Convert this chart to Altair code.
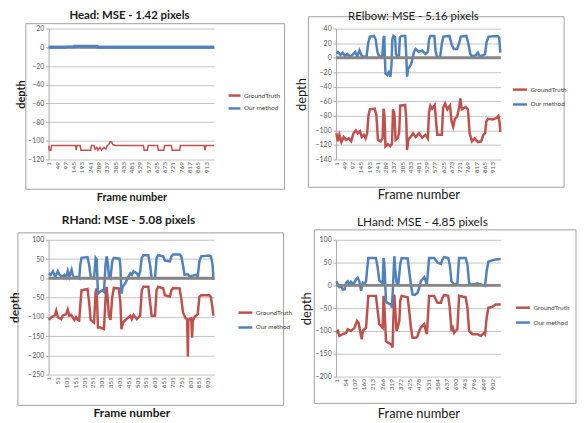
import altair as alt
import pandas as pd

RED = "#C0504D"
BLUE = "#4F81BD"
SERIES = ["GroundTruth", "Our method"]
FONT = "Lato"

# ---------------- Head ----------------
head_gt_frame = [1, 4, 13, 17, 157, 160, 164, 183, 187, 244, 248, 263, 269, 279, 286, 298, 307, 321, 332, 340,
                 349, 355, 365, 372, 388, 550, 554, 573, 577, 632, 636, 668, 672, 712, 716, 760, 764, 903, 907, 911, 960]
head_gt_depth = [-105, -110, -110, -105, -105, -110, -105, -105, -110, -110, -105, -105, -109, -107, -110, -107, -110,
                 -107, -109, -105, -104, -101, -101, -104, -105, -105, -110, -110, -105, -105, -110, -110, -105, -105,
                 -110, -110, -105, -105, -110, -105, -105]
head_om_frame = [1, 99, 101, 148, 150, 282, 285, 960]
head_om_depth = [0, 0, 0.5, 0.5, 1.2, 1.2, 0, 0]

# ---------------- RElbow ----------------
relb_gt_frame = [1, 10, 19, 31, 44, 57, 73, 88, 101, 115, 126, 139, 149, 162, 172, 181, 189, 197, 225, 235, 244, 260,
                 271, 277, 282, 288, 302, 315, 326, 332, 340, 347, 361, 368, 374, 403, 409, 414, 422, 435, 449, 464,
                 483, 502, 521, 535, 542, 550, 560, 575, 582, 590, 617, 624, 636, 649, 664, 674, 683, 693, 706, 718,
                 725, 733, 756, 769, 779, 792, 808, 827, 846, 859, 869, 876, 886, 913, 935, 947, 953, 958]
relb_gt_depth = [-104, -115, -106, -116, -109, -113, -111, -115, -104, -100, -104, -101, -109, -106, -111, -104, -79,
                 -71, -70, -79, -113, -115, -111, -70, -79, -122, -119, -122, -118, -71, -77, -113, -110, -102, -66,
                 -65, -84, -127, -112, -109, -104, -109, -104, -110, -106, -111, -75, -66, -70, -65, -84, -106, -106,
                 -69, -63, -71, -66, -88, -95, -84, -81, -68, -56, -71, -68, -71, -104, -115, -111, -116, -115, -106,
                 -104, -88, -84, -85, -83, -80, -88, -102]
relb_om_frame = [1, 11, 25, 38, 53, 67, 82, 95, 111, 124, 136, 149, 164, 178, 187, 197, 221, 231, 241, 250, 269, 277,
                 281, 284, 288, 298, 307, 317, 323, 328, 334, 344, 349, 359, 367, 372, 382, 403, 409, 414, 420, 430,
                 439, 454, 464, 483, 502, 521, 535, 542, 550, 573, 580, 588, 607, 617, 626, 661, 674, 687, 706, 718,
                 727, 760, 771, 783, 794, 813, 827, 836, 855, 869, 878, 890, 941, 951, 958]
relb_om_depth = [6, 8, 4, 7, 2, 5, 1, 4, 8, 2, 10, 3, 1, 2, 20, 29, 30, 25, 8, 2, 1, 28, 30, 5, -22, -24, -20, -26,
                 -10, 25, 30, 28, 5, 1, 3, 28, 30, 30, 5, -26, -15, -12, -8, 8, 12, 8, 10, 5, 8, 25, 30, 30, 10, 1, 1,
                 20, 29, 30, 18, 12, 12, 20, 29, 30, 20, 5, 2, 3, 7, 2, 3, 5, 22, 29, 30, 28, 7]

# ---------------- RHand ----------------
rhand_gt_frame = [1, 15, 34, 43, 52, 71, 80, 99, 108, 117, 127, 136, 145, 155, 164, 173, 179, 186, 220, 229, 238, 257,
                  266, 272, 279, 294, 313, 322, 328, 335, 341, 350, 360, 369, 397, 406, 412, 421, 434, 447, 462, 471,
                  481, 499, 518, 527, 537, 564, 574, 583, 602, 611, 620, 648, 658, 686, 695, 704, 741, 751, 760, 775,
                  784, 788, 791, 807, 812, 816, 825, 835, 844, 853, 863, 909, 918, 928, 933]
rhand_gt_depth = [-108, -101, -97, -84, -101, -106, -97, -93, -81, -97, -95, -101, -108, -101, -108, -110, -71, -31,
                  -28, -62, -108, -115, -35, -26, -128, -128, -132, -53, -22, -57, -97, -108, -49, -25, -26, -62, -132,
                  -115, -108, -104, -97, -106, -95, -106, -97, -31, -22, -22, -62, -97, -97, -31, -22, -26, -44, -48,
                  -31, -25, -26, -53, -88, -104, -106, -203, -108, -104, -154, -110, -101, -97, -93, -48, -44, -44, -48,
                  -79, -97]
rhand_om_frame = [1, 11, 24, 37, 52, 61, 75, 89, 99, 108, 117, 130, 136, 145, 160, 173, 179, 186, 220, 229, 238, 257,
                  266, 272, 279, 291, 304, 313, 322, 328, 335, 341, 350, 360, 369, 401, 406, 412, 419, 434, 447, 462,
                  471, 481, 499, 509, 518, 527, 537, 564, 574, 583, 602, 611, 620, 648, 658, 686, 695, 704, 741, 751,
                  760, 769, 788, 797, 816, 835, 844, 853, 863, 909, 918, 928, 933]
rhand_om_depth = [13, 9, 18, 4, 18, 10, 4, 9, 2, 19, 4, 22, 9, 2, 4, 0, 35, 53, 55, 35, 4, 0, 53, 49, -40, -35, -31,
                  -35, 35, 57, 40, 4, 0, 44, 53, 51, 35, -40, -22, -13, 0, 13, 9, 18, 13, 4, 18, 53, 60, 60, 35, 0, 0,
                  53, 60, 57, 46, 44, 57, 62, 62, 57, 35, 9, 11, 4, 7, 9, 4, 44, 57, 59, 57, 35, -4]

# ---------------- LHand ----------------
lhand_gt_frame = [1, 10, 19, 38, 58, 67, 86, 106, 121, 130, 140, 148, 154, 163, 173, 178, 186, 230, 240, 249, 269,
                  274, 278, 288, 301, 317, 326, 330, 336, 342, 349, 355, 365, 370, 378, 413, 422, 432, 441, 461, 470,
                  480, 489, 509, 518, 524, 537, 566, 585, 605, 614, 624, 647, 656, 666, 674, 681, 700, 710, 748, 758,
                  768, 787, 816, 835, 854, 860, 869, 879, 902, 921, 950]
lhand_gt_depth = [-104, -100, -111, -107, -104, -96, -100, -93, -78, -82, -104, -118, -100, -96, -93, -64, -23, -23,
                  -56, -85, -93, -23, -42, -122, -126, -129, -136, -78, -20, -56, -100, -93, -78, -34, -23, -26, -56,
                  -93, -115, -115, -111, -100, -93, -85, -100, -107, -23, -23, -38, -38, -27, -21, -23, -49, -100, -93,
                  -104, -96, -23, -26, -49, -100, -107, -107, -111, -104, -107, -71, -49, -47, -42, -42]
lhand_om_frame = [1, 10, 19, 29, 38, 48, 58, 67, 77, 86, 96, 106, 115, 125, 134, 144, 154, 163, 173, 178, 186, 230,
                  240, 249, 269, 274, 278, 288, 294, 317, 322, 328, 336, 342, 349, 359, 370, 378, 413, 422, 432, 441,
                  455, 470, 480, 489, 509, 518, 524, 537, 566, 585, 605, 614, 624, 647, 656, 666, 681, 700, 710, 748,
                  758, 768, 787, 816, 835, 854, 860, 869, 879, 902, 921, 950]
lhand_om_depth = [9, 2, -4, -2, -9, -9, 6, 9, 2, 8, 4, 6, 13, 17, 9, -12, 6, 4, 9, 31, 60, 60, 39, 11, 4, 60, 50, -34,
                  -38, -42, -49, -5, 64, 31, 6, 2, 46, 60, 59, 31, 2, -20, -21, -16, -5, 9, 18, 9, 2, 60, 60, 50, 47,
                  57, 62, 60, 46, 9, 2, 4, 60, 60, 46, 4, 2, 4, 2, 0, -1, 31, 52, 55, 57, 58]

XT_48 = [1, 49, 97, 145, 193, 241, 289, 337, 385, 433, 481, 529, 577, 625, 673, 721, 769, 817, 865, 913]
XT_50 = [1, 51, 101, 151, 201, 251, 301, 351, 401, 451, 501, 551, 601, 651, 701, 751, 801, 851, 901]
XT_53 = [1, 54, 107, 160, 213, 266, 319, 372, 425, 478, 531, 584, 637, 690, 743, 796, 849, 902]


def make_df(gf, gv, of, ov):
    return pd.DataFrame({
        "frame": gf + of,
        "depth": gv + ov,
        "series": [SERIES[0]] * len(gf) + [SERIES[1]] * len(of),
    })


def panel(df, title, tbold, tsize, tdx, toff, ydom, ystep, xticks, n, w, h, border, leg,
          abold, asize, ytp, xtp, zero_top, gt_w, om_w):
    weight = "bold" if abold else "normal"
    x = alt.X("frame:Q", scale=alt.Scale(domain=[0, n], nice=False, zero=False),
              axis=alt.Axis(values=xticks, labelAngle=270, labelFontSize=6.5, labelColor="#595959",
                            labelFont=FONT, labelOverlap=False, labelFlush=False, labelPadding=2,
                            ticks=False, domain=False, grid=False, title="Frame number",
                            titleFont=FONT, titleFontSize=asize, titleFontWeight=weight,
                            titleColor="#1a1a1a", titlePadding=xtp))
    y = alt.Y("depth:Q", scale=alt.Scale(domain=ydom, nice=False, zero=False),
              axis=alt.Axis(values=list(range(ydom[0], ydom[1] + 1, ystep)), labelFontSize=7,
                            labelColor="#595959", labelFont=FONT, labelOverlap=False, labelFlush=False,
                            tickSize=3, tickColor="#A6A6A6",
                            labelPadding=2, domainColor="#A6A6A6", grid=True, gridColor="#C4C4C4",
                            gridWidth=1, title="depth", titleFont=FONT, titleFontSize=asize,
                            titleFontWeight=weight, titleColor="#1a1a1a", titlePadding=ytp))
    color = alt.Color("series:N", scale=alt.Scale(domain=SERIES, range=[RED, BLUE]),
                      legend=alt.Legend(orient="none", legendX=leg[0], legendY=leg[1], title=None,
                                        symbolType="stroke", symbolSize=leg[2], symbolStrokeWidth=2.5,
                                        labelFontSize=6.5, labelFont=FONT, labelColor="#404040",
                                        labelOffset=2, rowPadding=leg[3]))
    frame_box = alt.Chart(pd.DataFrame({"b": [0]})).mark_rect(
        fillOpacity=0, stroke="#A0A0A0", strokeWidth=1).encode(
        x=alt.value(border[0]), x2=alt.value(border[1]), y=alt.value(border[2]), y2=alt.value(border[3]))
    zero = alt.Chart(pd.DataFrame({"depth": [0]})).mark_rule(color="#868686", strokeWidth=3).encode(y=y)
    gt = alt.Chart(df).transform_filter(alt.datum.series == SERIES[0]).mark_line(
        strokeWidth=gt_w).encode(x=x, y=y, color=color)
    om = alt.Chart(df).transform_filter(alt.datum.series == SERIES[1]).mark_line(
        strokeWidth=om_w).encode(x=x, y=y, color=color)
    layers = [frame_box]
    if not zero_top:
        layers.append(zero)
    layers += [gt, om]
    if zero_top:
        layers.append(zero)
    return alt.layer(*layers).properties(
        width=w, height=h,
        title=alt.TitleParams(title, font=FONT, fontSize=tsize, fontWeight="bold" if tbold else "normal",
                              color="#1a1a1a", anchor="middle", frame="group", dx=tdx, offset=toff),
    )


p1 = panel(make_df(head_gt_frame, head_gt_depth, head_om_frame, head_om_depth),
           "Head: MSE - 1.42 pixels", True, 11.5, -2, 2, [-120, 20], 20, XT_48, 960, 167, 132,
           [-23, 238, -5, 162], [180, 60, 144, 0], True, 11, 1, 19, False, 1.5, 3)
p2 = panel(make_df(relb_gt_frame, relb_gt_depth, relb_om_frame, relb_om_depth),
           "RElbow: MSE - 5.16 pixels", False, 11.5, -5, -6, [-140, 40], 20, XT_48, 960, 166, 132,
           [-28, 230, -12, 160], [177, 53, 196, 1], False, 13, 7, 16, True, 2.5, 2.5)
p3 = panel(make_df(rhand_gt_frame, rhand_gt_depth, rhand_om_frame, rhand_om_depth),
           "RHand: MSE - 5.08 pixels", True, 12, -3, 5, [-250, 100], 50, XT_50, 937, 167, 136,
           [-31, 237, -7, 167], [190, 65, 196, 1], True, 12, 6, 20, True, 2.5, 2.5)
p4 = panel(make_df(lhand_gt_frame, lhand_gt_depth, lhand_om_frame, lhand_om_depth),
           "LHand: MSE - 4.85 pixels", False, 12, 4, 0, [-200, 100], 50, XT_53, 950, 166, 138,
           [-22, 242, -10, 165], [180, 60, 196, 1], False, 13, 2, 18, True, 2.5, 2.5)

chart = alt.concat(
    p1, p2, p3, p4, columns=2, bounds="flush",
    spacing=alt.RowColnumber(column=123, row=81),
).resolve_scale(color="independent").resolve_legend(color="independent").properties(
    padding=0
).configure_view(stroke=None)

chart.save("out.html", embed_options={"renderer": "svg", "actions": False})
